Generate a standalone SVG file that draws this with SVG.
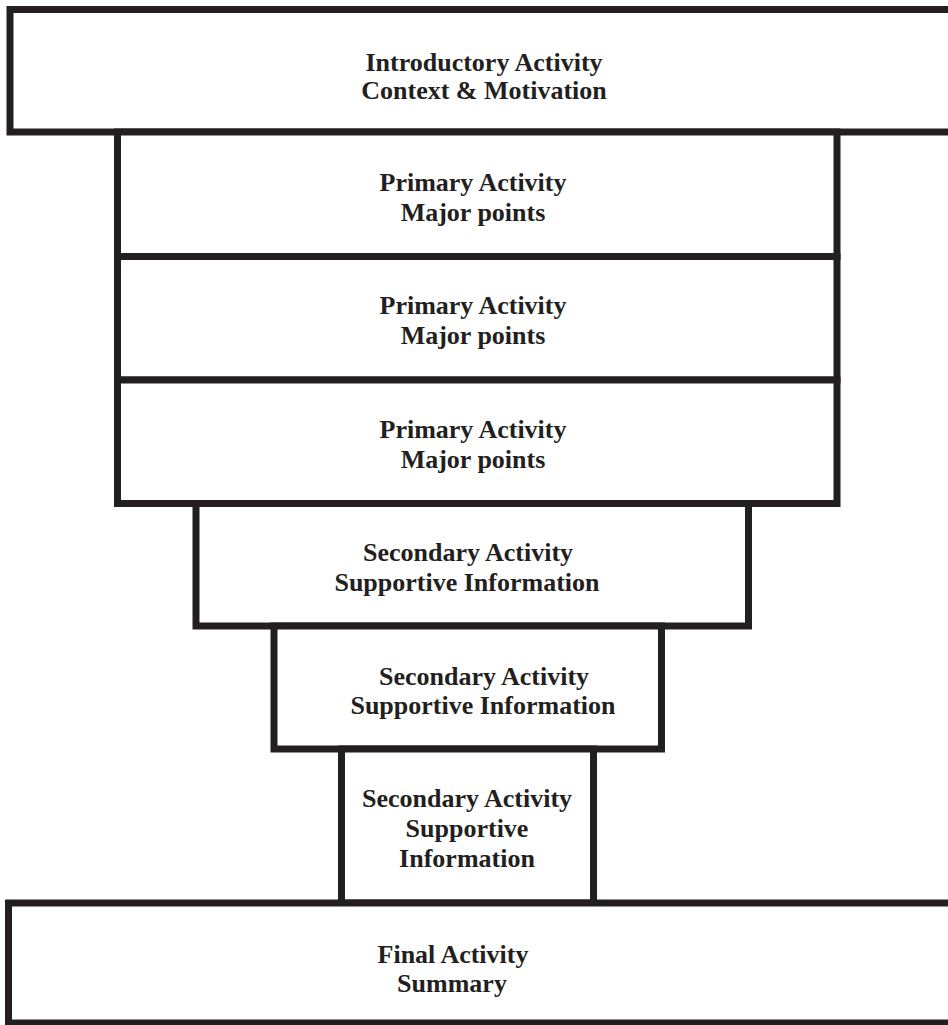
<svg xmlns="http://www.w3.org/2000/svg" width="948" height="1025" viewBox="0 0 948 1025">
<style>
.box{fill:#fff;stroke:#231f20;stroke-width:7;stroke-linejoin:miter}
.t{font-family:"Liberation Serif","Times New Roman",serif;font-weight:bold;font-size:26px;fill:#231f20;text-anchor:middle}
</style>
<rect width="948" height="1025" fill="#fff"/>
<g id="intro">
<rect class="box" x="10" y="9.5" width="960" height="122.5"/>
<text class="t" x="484" y="71">Introductory Activity</text>
<text class="t" x="484" y="99">Context &amp; Motivation</text>
</g>
<g id="primary1">
<rect class="box" x="117.5" y="132" width="719.5" height="124.5"/>
<text class="t" x="473" y="191">Primary Activity</text>
<text class="t" x="473" y="221">Major points</text>
</g>
<g id="primary2">
<rect class="box" x="117.5" y="256.5" width="719.5" height="123.5"/>
<text class="t" x="473" y="314">Primary Activity</text>
<text class="t" x="473" y="344">Major points</text>
</g>
<g id="primary3">
<rect class="box" x="117.5" y="380" width="719.5" height="123.5"/>
<text class="t" x="473" y="438">Primary Activity</text>
<text class="t" x="473" y="468">Major points</text>
</g>
<g id="secondary1">
<rect class="box" x="196" y="503.5" width="552.5" height="122.5"/>
<text class="t" x="468" y="561">Secondary Activity</text>
<text class="t" x="467" y="591">Supportive Information</text>
</g>
<g id="secondary2">
<rect class="box" x="274" y="626" width="387.5" height="123"/>
<text class="t" x="484" y="685">Secondary Activity</text>
<text class="t" x="483" y="714">Supportive Information</text>
</g>
<g id="secondary3">
<rect class="box" x="341.5" y="749" width="252" height="154"/>
<text class="t" x="467" y="807">Secondary Activity</text>
<text class="t" x="467" y="837">Supportive</text>
<text class="t" x="467" y="867">Information</text>
</g>
<g id="final">
<rect class="box" x="8.5" y="903" width="960" height="120"/>
<text class="t" x="453" y="963">Final Activity</text>
<text class="t" x="452" y="992">Summary</text>
</g>
<g id="connectors"/>
</svg>
